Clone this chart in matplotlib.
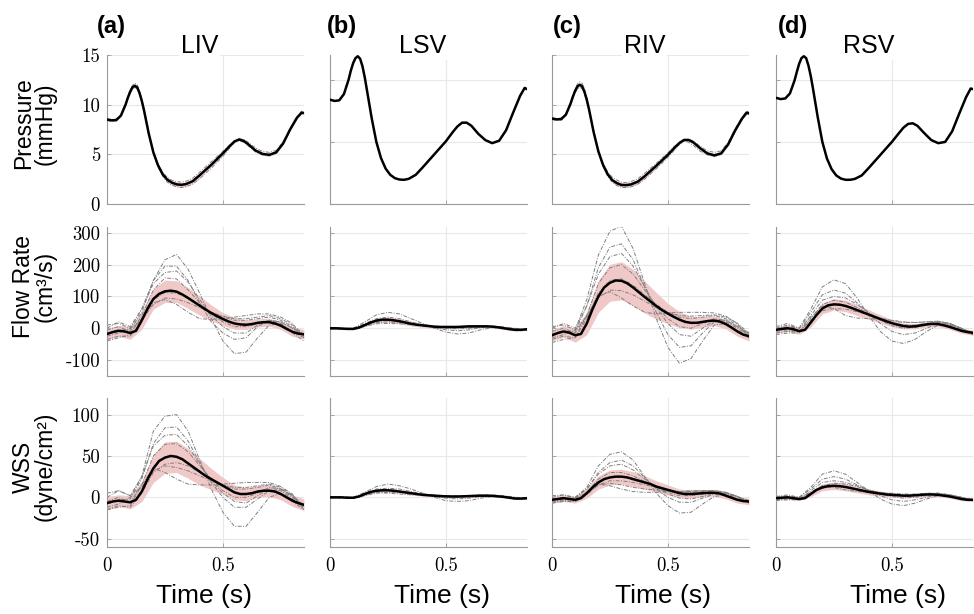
# -*- coding: utf-8 -*-

import numpy as np
import matplotlib.pyplot as plt

plt.rcParams['axes.unicode_minus'] = False

# time axes [s]
t_pres = [0, 0.02, 0.04, 0.06, 0.08, 0.09, 0.1, 0.11, 0.12, 0.13,
          0.14, 0.15, 0.16, 0.18, 0.2, 0.22, 0.24, 0.26, 0.28, 0.3,
          0.32, 0.34, 0.37, 0.4, 0.45, 0.5, 0.53, 0.55, 0.57, 0.59,
          0.61, 0.64, 0.67, 0.7, 0.73, 0.76, 0.79, 0.82, 0.84, 0.85]
t_fine = np.arange(35) * 0.025   # flow / wss mean curves
t_coarse = np.arange(18) * 0.05  # sd band and single cases

columns = ['LIV', 'LSV', 'RIV', 'RSV']
letters = ['(a)', '(b)', '(c)', '(d)']
row_labels = ['Pressure\n(mmHg)', 'Flow Rate\n(cm³/s)', 'WSS\n(dyne/cm²)']

# ---- pressure [mmHg] ----
pres_liv = [8.5, 8.42, 8.45, 8.9, 10.0, 10.7, 11.3, 11.75, 11.9, 11.75,
            11.2, 10.4, 9.4, 7.1, 5.2, 3.9, 3.0, 2.45, 2.15, 1.98,
            1.93, 2.0, 2.3, 2.9, 3.95, 5.1, 5.85, 6.3, 6.5, 6.35,
            6.0, 5.4, 5.05, 4.95, 5.2, 6.1, 7.5, 8.7, 9.2, 9.15]
pres_lsv = [8.4, 8.3, 8.35, 8.85, 10.0, 10.75, 11.35, 11.75, 11.9, 11.7,
            11.1, 10.2, 9.1, 6.9, 5.0, 3.7, 2.85, 2.35, 2.08, 1.97,
            1.95, 2.03, 2.35, 2.95, 4.0, 5.05, 5.8, 6.25, 6.55, 6.55,
            6.3, 5.65, 5.15, 4.9, 5.1, 5.95, 7.35, 8.7, 9.35, 9.25]
pres_riv = [8.6, 8.52, 8.55, 9.0, 10.1, 10.8, 11.4, 11.85, 12.0, 11.85,
            11.3, 10.5, 9.5, 7.2, 5.3, 3.95, 3.0, 2.4, 2.1, 1.92,
            1.9, 1.97, 2.25, 2.8, 3.85, 4.95, 5.7, 6.15, 6.45, 6.45,
            6.2, 5.6, 5.1, 4.9, 5.1, 6.0, 7.4, 8.6, 9.2, 9.15]
pres_rsv = [8.55, 8.45, 8.5, 8.9, 9.95, 10.65, 11.3, 11.75, 11.9, 11.75,
            11.15, 10.3, 9.25, 7.0, 5.0, 3.65, 2.8, 2.3, 2.05, 1.95,
            1.95, 2.02, 2.3, 2.9, 3.95, 5.0, 5.7, 6.15, 6.45, 6.5,
            6.3, 5.7, 5.15, 4.9, 5.0, 5.85, 7.25, 8.6, 9.3, 9.25]
pres_liv_sd = [0.1, 0.1, 0.1, 0.1, 0.12, 0.14, 0.16, 0.18, 0.2, 0.2,
               0.2, 0.2, 0.2, 0.18, 0.16, 0.16, 0.18, 0.2, 0.22, 0.22,
               0.22, 0.22, 0.22, 0.22, 0.2, 0.18, 0.16, 0.15, 0.14, 0.14,
               0.15, 0.15, 0.15, 0.15, 0.14, 0.13, 0.12, 0.12, 0.12, 0.12]
pres_riv_sd = [0.1, 0.1, 0.1, 0.1, 0.12, 0.14, 0.16, 0.18, 0.2, 0.2,
               0.2, 0.2, 0.2, 0.18, 0.16, 0.16, 0.18, 0.2, 0.22, 0.22,
               0.22, 0.22, 0.22, 0.22, 0.2, 0.18, 0.16, 0.15, 0.14, 0.14,
               0.15, 0.15, 0.15, 0.15, 0.14, 0.13, 0.12, 0.12, 0.12, 0.12]
pres_liv_cases = [
    [8.4, 8.32, 8.38, 8.9, 10.1, 10.85, 11.5, 11.95, 12.15, 12.0,
     11.4, 10.6, 9.5, 7.2, 5.1, 3.7, 2.8, 2.2, 1.9, 1.72,
     1.66, 1.72, 2.0, 2.55, 3.6, 4.8, 5.65, 6.2, 6.55, 6.5,
     6.2, 5.65, 5.3, 5.2, 5.4, 6.25, 7.6, 8.8, 9.35, 9.3],
    [8.6, 8.5, 8.55, 8.95, 9.95, 10.6, 11.2, 11.6, 11.75, 11.6,
     11.0, 10.2, 9.2, 7.0, 5.2, 4.05, 3.2, 2.7, 2.4, 2.25,
     2.2, 2.28, 2.6, 3.2, 4.25, 5.3, 5.95, 6.3, 6.4, 6.2,
     5.85, 5.25, 4.95, 4.85, 5.1, 6.0, 7.4, 8.6, 9.1, 9.05],
]
pres_riv_cases = [
    [8.5, 8.42, 8.45, 9.0, 10.2, 10.95, 11.6, 12.1, 12.3, 12.15,
     11.6, 10.7, 9.6, 7.3, 5.2, 3.8, 2.8, 2.2, 1.85, 1.68,
     1.65, 1.72, 1.98, 2.5, 3.55, 4.7, 5.5, 6.0, 6.4, 6.5,
     6.35, 5.8, 5.35, 5.2, 5.35, 6.2, 7.55, 8.75, 9.35, 9.3],
    [8.7, 8.6, 8.65, 9.05, 10.0, 10.65, 11.2, 11.6, 11.75, 11.6,
     11.05, 10.3, 9.3, 7.1, 5.3, 4.1, 3.25, 2.7, 2.4, 2.2,
     2.15, 2.25, 2.55, 3.1, 4.1, 5.15, 5.85, 6.2, 6.35, 6.2,
     5.9, 5.3, 4.95, 4.8, 5.0, 5.9, 7.3, 8.5, 9.05, 9.0],
]

# ---- flow rate [cm3/s] ----
flow_liv = [-18, -12, -8, -10, -15, -8, 25, 62, 92, 108, 116, 118, 115, 106, 95, 83, 71, 59,
            48, 38, 29, 21, 15, 12, 11, 13, 17, 19, 19, 15, 8, -2, -11, -17, -19]
flow_lsv = [0, 0, -1, -2, -2, 2, 10, 18, 24, 27, 27, 25, 22, 18, 14, 11, 9, 7,
            5, 4, 4, 4, 4, 5, 6, 6, 6, 6, 5, 3, 0, -3, -5, -5, -3]
flow_riv = [-22, -15, -10, -14, -22, -18, 15, 60, 100, 128, 143, 150, 149, 141, 128, 113, 98, 84,
            70, 57, 46, 36, 27, 20, 17, 17, 20, 23, 24, 21, 13, 2, -10, -20, -25]
flow_rsv = [-5, -2, 0, -3, -9, -5, 18, 42, 62, 72, 75, 74, 70, 64, 57, 50, 43, 36,
            29, 22, 16, 11, 7, 5, 6, 9, 12, 14, 13, 9, 4, -2, -8, -12, -14]
flow_liv_sd = [18, 17, 20, 28, 32, 35, 34, 33, 30, 25, 20, 18, 15, 13, 12, 12, 14, 15]
flow_lsv_sd = [3, 3, 3, 5, 7, 8, 8, 7, 6, 5, 5, 5, 5, 4, 4, 4, 4, 4]
flow_riv_sd = [18, 18, 22, 35, 50, 58, 60, 57, 50, 42, 32, 25, 20, 17, 15, 15, 15, 15]
flow_rsv_sd = [10, 10, 10, 14, 17, 18, 18, 17, 15, 13, 11, 9, 8, 8, 8, 8, 8, 8]
flow_liv_cases = [
    [-25, -15, 0, 60, 150, 215, 232, 185, 110, 30, -40, -80, -75, -30, 10, 15, -15, -40],
    [-15, -5, -5, 50, 150, 195, 195, 150, 80, 20, -15, -35, -30, 5, 25, 15, -10, -30],
    [0, 20, 5, 60, 140, 175, 180, 145, 90, 40, 5, -15, -15, 10, 25, 20, 0, -25],
    [-40, -30, -20, 40, 120, 158, 155, 120, 80, 45, 20, 5, 5, 15, 25, 20, 0, -20],
    [-35, -25, -25, 20, 90, 112, 110, 95, 70, 50, 35, 25, 25, 30, 35, 25, 5, -25],
    [10, 15, 0, 25, 75, 95, 92, 80, 65, 50, 38, 30, 30, 35, 40, 30, 10, -20],
    [-5, 5, -10, 30, 80, 90, 75, 50, 30, 28, 30, 35, 40, 45, 45, 35, 15, -30],
]
flow_lsv_cases = [
    [0, 0, 0, 20, 42, 50, 45, 30, 15, 0, -12, -18, -15, -5, 2, 0, -5, -5],
    [2, 0, -2, 15, 30, 35, 30, 20, 10, 2, -5, -8, -5, 2, 5, 2, -3, -5],
    [-2, -2, -3, 10, 22, 25, 22, 15, 8, 3, 0, -2, 0, 4, 6, 3, -2, -6],
    [0, -1, -2, 8, 18, 20, 18, 14, 9, 5, 2, 1, 2, 5, 6, 3, -2, -4],
    [-3, -2, -4, 6, 14, 15, 14, 11, 8, 5, 3, 3, 4, 6, 7, 4, 0, -5],
]
flow_riv_cases = [
    [-30, -20, -5, 90, 230, 305, 320, 250, 140, 30, -60, -110, -95, -40, 10, 15, -10, -30],
    [-20, -10, -10, 70, 190, 255, 265, 215, 130, 50, -20, -60, -55, -15, 20, 20, 0, -25],
    [0, 15, 0, 70, 170, 225, 235, 195, 130, 65, 15, -20, -25, 0, 25, 25, 5, -20],
    [-45, -35, -30, 40, 140, 190, 200, 170, 120, 70, 30, 5, 0, 15, 30, 25, 5, -15],
    [-35, -25, -30, 30, 110, 150, 155, 135, 105, 75, 50, 35, 30, 35, 40, 30, 10, -20],
    [5, 10, -5, 35, 95, 120, 118, 105, 85, 65, 50, 40, 38, 40, 42, 35, 15, -15],
    [-10, 0, -15, 40, 100, 115, 95, 70, 50, 45, 48, 50, 50, 50, 48, 38, 15, -30],
]
flow_rsv_cases = [
    [-5, 5, 0, 60, 130, 152, 140, 95, 40, -10, -40, -48, -35, -10, 10, 10, -5, -20],
    [0, 10, 0, 50, 105, 120, 110, 80, 45, 15, -10, -20, -15, 0, 15, 12, -2, -15],
    [-15, -10, -12, 40, 88, 100, 95, 75, 50, 25, 8, 0, 2, 10, 18, 12, -2, -15],
    [-20, -15, -15, 30, 75, 88, 82, 65, 45, 30, 18, 10, 10, 15, 20, 15, 0, -18],
    [5, 15, 0, 35, 70, 62, 40, 32, 30, 28, 25, 20, 18, 20, 22, 15, 0, -20],
    [-10, -5, -10, 25, 55, 62, 60, 52, 42, 32, 24, 18, 18, 20, 22, 15, 0, -15],
]

# ---- wall shear stress [dyne/cm2] ----
wss_liv = [-7, -5, -4, -5, -6, -3, 7, 22, 35, 44, 48, 50, 49, 46, 41, 36, 31, 26,
           22, 18, 14, 10, 6, 4, 4, 5, 7, 8, 8, 7, 4, 0, -4, -7, -9]
wss_lsv = [0, 0, 0, -0.5, -0.5, 1, 4, 6.5, 8, 8.5, 8.5, 8, 7, 6, 5, 4, 3, 2.5,
           2, 1.5, 1.2, 1, 1, 1.2, 1.5, 1.8, 2, 2, 1.8, 1.2, 0.5, -0.5, -1.5, -1.5, -1]
wss_riv = [-3, -2, -1, -2, -3, -1, 5, 12, 18, 22, 24, 25, 25, 24, 22, 20, 18, 16,
           13, 11, 9, 7, 5, 4, 4, 4.5, 5, 5.5, 5.5, 4.5, 2, -0.5, -3, -4.5, -5]
wss_rsv = [-1, -0.5, 0, -1, -2, -1, 4, 9, 12, 13.5, 14, 13.5, 12.5, 11, 9.5, 8, 6.5, 5.5,
           4.5, 3.5, 3, 2.5, 2, 2, 2.5, 3, 3.5, 3.5, 3, 2, 1, -0.5, -2, -3, -3]
wss_liv_sd = [8, 7, 8, 12, 17, 19, 19, 18, 16, 13, 10, 9, 8, 7, 7, 7, 7, 7]
wss_lsv_sd = [1, 1, 1, 1.5, 2, 2, 2, 2, 1.5, 1.5, 1.5, 1.5, 1.5, 1.2, 1.2, 1, 1, 1]
wss_riv_sd = [4, 4, 4, 6, 8, 9, 9, 9, 8, 7, 6, 5, 5, 4, 4, 4, 4, 4]
wss_rsv_sd = [2, 2, 2, 3, 4, 4.5, 4.5, 4, 3.5, 3, 2.5, 2.5, 2, 2, 2, 2, 2, 2]
wss_liv_cases = [
    [-12, -8, 0, 25, 80, 98, 100, 80, 45, 10, -18, -35, -35, -18, 0, 5, -5, -15],
    [-8, -3, -2, 22, 65, 84, 85, 68, 42, 18, 0, -12, -12, -2, 8, 8, -2, -12],
    [0, 8, 2, 25, 62, 75, 76, 62, 40, 20, 5, -5, -7, 2, 10, 10, 2, -10],
    [-15, -12, -10, 15, 50, 64, 65, 55, 38, 22, 8, 0, 0, 5, 12, 10, 0, -10],
    [-15, -10, -12, 5, 30, 40, 42, 38, 30, 22, 15, 10, 10, 12, 15, 10, 2, -15],
    [5, 8, 2, 12, 32, 38, 36, 32, 26, 20, 15, 12, 12, 14, 16, 12, 3, -12],
    [-5, 0, -6, 15, 35, 30, 22, 16, 15, 15, 16, 17, 18, 18, 18, 13, 4, -15],
]
wss_lsv_cases = [
    [0, 0, 0, 6, 13, 16, 14, 10, 5, 0, -4, -5, -4, -1, 1, 0, -2, -2],
    [0, 0, -1, 5, 10, 11, 10, 7, 4, 1, -1, -2, -1, 1, 2, 1, -1, -2],
    [-1, -1, -1, 3, 7, 8, 7, 5, 3, 2, 1, 0, 1, 2, 2, 1, -1, -2],
    [0, 0, -1, 2, 5, 6, 6, 5, 4, 3, 2, 2, 2, 3, 3, 2, 0, -1],
    [1, 1, 0, 3, 6, 5, 4, 3, 3, 2, 2, 1, 1, 2, 2, 1, 0, -1],
]
wss_riv_cases = [
    [-5, -3, 0, 12, 38, 52, 55, 45, 25, 5, -10, -19, -18, -8, 1, 3, -2, -6],
    [-3, -1, -1, 10, 30, 42, 45, 38, 24, 10, 0, -6, -6, -1, 4, 4, 0, -5],
    [0, 3, 0, 10, 28, 38, 40, 33, 22, 12, 4, -1, -2, 1, 5, 5, 1, -4],
    [-7, -5, -5, 6, 22, 30, 30, 26, 19, 12, 6, 2, 2, 4, 6, 5, 0, -5],
    [-6, -4, -5, 3, 15, 20, 20, 18, 15, 12, 9, 7, 6, 7, 8, 6, 1, -6],
    [2, 3, -1, 5, 15, 17, 15, 12, 10, 9, 8, 7, 7, 8, 8, 6, 1, -6],
    [-2, 0, -3, 6, 16, 14, 10, 7, 6, 6, 7, 7, 8, 8, 8, 6, 1, -7],
]
wss_rsv_cases = [
    [-1, 1, 0, 12, 28, 32, 28, 18, 8, -2, -8, -10, -7, -2, 2, 2, -1, -4],
    [0, 2, 0, 10, 22, 25, 22, 15, 8, 2, -3, -5, -3, 0, 3, 2, -1, -3],
    [-3, -2, -3, 8, 18, 20, 18, 14, 9, 4, 1, -1, 0, 2, 4, 3, 0, -3],
    [-4, -3, -3, 6, 14, 17, 16, 13, 9, 5, 3, 2, 2, 3, 4, 3, 0, -4],
    [1, 3, 0, 6, 14, 12, 9, 7, 6, 5, 5, 4, 4, 5, 5, 3, 0, -4],
    [-2, -1, -2, 5, 11, 13, 12, 10, 8, 6, 4, 3, 3, 4, 5, 3, 0, -3],
]

# panel table: rows = pressure / flow / wss, cols = LIV LSV RIV RSV
panels = [
    [(pres_liv, pres_liv_sd, pres_liv_cases), (pres_lsv, None, []),
     (pres_riv, pres_riv_sd, pres_riv_cases), (pres_rsv, None, [])],
    [(flow_liv, flow_liv_sd, flow_liv_cases), (flow_lsv, flow_lsv_sd, flow_lsv_cases),
     (flow_riv, flow_riv_sd, flow_riv_cases), (flow_rsv, flow_rsv_sd, flow_rsv_cases)],
    [(wss_liv, wss_liv_sd, wss_liv_cases), (wss_lsv, wss_lsv_sd, wss_lsv_cases),
     (wss_riv, wss_riv_sd, wss_riv_cases), (wss_rsv, wss_rsv_sd, wss_rsv_cases)],
]


def time_for(values):
    # pick the time axis that matches the length of a series
    if len(values) == len(t_pres):
        return np.array(t_pres)
    if len(values) == len(t_fine):
        return t_fine
    return t_coarse


# layout in pixels
W, H = 974, 614
col_left = [107, 330, 552, 776]
row_top = [55, 227, 398]
ax_w, ax_h = 197, 149
xlabel_x = [204, 442, 663, 898]
letter_x = [97, 327, 553, 778]
ylabel_y = [0.54, 0.60, 0.54]  # vertical centre of row labels (axes fraction)

sans = 'Liberation Sans'
band_color = '#f0c8c8'
case_style = dict(color='0.5', lw=0.7, ls=(0, (4, 1.5, 1, 1.5)))

fig = plt.figure(figsize=(W / 100, H / 100), dpi=100)

for r in range(3):
    for c in range(4):
        ax = fig.add_axes([col_left[c] / W, 1 - (row_top[r] + ax_h) / H, ax_w / W, ax_h / H])
        mean, sd, cases = panels[r][c]
        t_mean = time_for(mean)

        # mean +/- sd band
        if sd is not None:
            if len(sd) == len(mean):
                tb, m = t_mean, np.array(mean)
            else:
                tb, m = t_coarse, np.array(mean)[::2]
            s = np.array(sd)
            ax.fill_between(tb, m - s, m + s, color=band_color, lw=0, zorder=1)
        # single cases
        for cs in cases:
            ax.plot(time_for(cs), cs, zorder=2, **case_style)
        # mean
        ax.plot(t_mean, mean, color='k', lw=1.8, zorder=3)

        ax.set_xlim(0, 0.85)
        ax.set_xticks([0, 0.5])
        if r == 0:
            if c in (0, 2):
                ax.set_ylim(0, 15)
                ax.set_yticks([0, 5, 10, 15])
            else:
                ax.set_ylim(0, 12)
                ax.set_yticks([0, 5, 10])
        elif r == 1:
            ax.set_ylim(-150, 318)
            ax.set_yticks([-100, 0, 100, 200, 300])
        else:
            ax.set_ylim(-60, 120)
            ax.set_yticks([-50, 0, 50, 100])

        ax.grid(True, color='#e8e8e8', lw=0.8, zorder=0)
        ax.set_axisbelow(True)
        for sp in ['top', 'right']:
            ax.spines[sp].set_visible(False)
        for sp in ['left', 'bottom']:
            ax.spines[sp].set_color('#9a9a9a')
            ax.spines[sp].set_linewidth(0.8)
        ax.tick_params(direction='in', length=3, width=0.6, color='#9a9a9a',
                       labelsize=13.5, pad=5)
        ax.tick_params(axis='x', pad=7)

        if c > 0:
            ax.set_yticklabels([])
        else:
            ax.set_yticklabels([str(v) for v in ax.get_yticks().astype(int)], fontfamily='cmr10')
            ax.set_ylabel(row_labels[r], fontsize=16.5, family=sans, linespacing=0.9, va='center')
            ax.yaxis.set_label_coords(-0.37, ylabel_y[r])
        if r < 2:
            ax.set_xticklabels([])
        else:
            ax.set_xticklabels(['0', '0.5'], fontfamily='cmr10')
            fig.text(xlabel_x[c] / W, 1 - 603 / H, 'Time (s)', fontsize=19, family=sans,
                     ha='center', va='baseline')

        if r == 0:
            ax.text(0.47, (ax_h + 2) / ax_h, columns[c], transform=ax.transAxes,
                    fontsize=18, family=sans, ha='center', va='baseline',
                    bbox=dict(facecolor='white', edgecolor='none', pad=1))
            fig.text(letter_x[c] / W, 1 - 33 / H, letters[c], fontsize=17, family=sans,
                     fontweight='bold', ha='left', va='baseline')

fig.savefig('out.png', dpi=100)
